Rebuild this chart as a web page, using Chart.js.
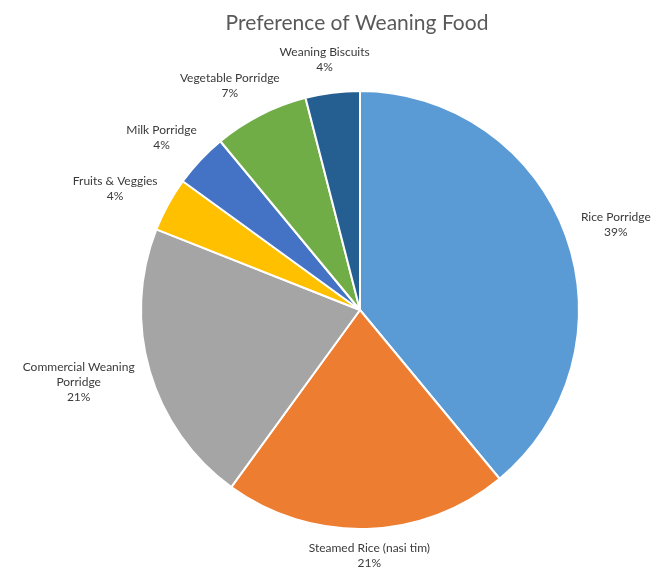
<!DOCTYPE html>
<html lang="en">
<head>
    <meta charset="UTF-8">
    <title>Preference of Weaning Food</title>
    <script src="https://cdn.jsdelivr.net/npm/chart.js"></script>
    <style>
        body, html {
            margin: 0;
            padding: 0;
            width: 654px;
            height: 571px;
            overflow: hidden;
            background: #fff;
            font-family: Lato, "Open Sans", sans-serif;
        }
        #wrap { width: 654px; height: 571px; }
    </style>
</head>
<body>
    <div id="wrap"><canvas id="pieChart"></canvas></div>

    <script>
        const categories = [
            "Rice Porridge",
            "Steamed Rice (nasi tim)",
            "Commercial Weaning Porridge",
            "Fruits & Veggies",
            "Milk Porridge",
            "Vegetable Porridge",
            "Weaning Biscuits"
        ];
        // label text as it wraps in the picture
        const labelLines = [
            ["Rice Porridge"],
            ["Steamed Rice (nasi tim)"],
            ["Commercial Weaning", "Porridge"],
            ["Fruits & Veggies"],
            ["Milk Porridge"],
            ["Vegetable Porridge"],
            ["Weaning Biscuits"]
        ];
        const shares = [39, 21, 21, 4, 4, 7, 4];
        const colors = ["#5B9BD5", "#ED7D31", "#A5A5A5", "#FFC000", "#4472C4", "#70AD47", "#255E91"];

        // title + outside labels, placed next to each slice
        const outsideLabels = {
            id: 'outsideLabels',
            afterDraw(chart) {
                const ctx = chart.ctx;
                ctx.save();
                ctx.fillStyle = '#595959';
                ctx.font = '21px Lato, "Open Sans", sans-serif';
                ctx.textAlign = 'center';
                ctx.textBaseline = 'middle';
                ctx.fillText('Preference of Weaning Food', chart.width / 2 + 30, 23);

                const meta = chart.getDatasetMeta(0);
                const total = shares.reduce((a, b) => a + b, 0);
                ctx.font = '12px Lato, "Open Sans", sans-serif';
                ctx.fillStyle = '#3a3a3a';
                const lh = 15;
                meta.data.forEach((arc, i) => {
                    const mid = (arc.startAngle + arc.endAngle) / 2;
                    const r = arc.outerRadius + 18;
                    const ax = arc.x + Math.cos(mid) * r;
                    const ay = arc.y + Math.sin(mid) * r;
                    const lines = labelLines[i].concat([Math.round(shares[i] / total * 100) + '%']);
                    const w = Math.max(...lines.map(l => ctx.measureText(l).width));
                    const h = lines.length * lh;
                    const cx = ax + Math.cos(mid) * w / 2;
                    // keep the box inside the canvas
                    const cy = Math.min(ay + Math.sin(mid) * h / 2, chart.height - h / 2);
                    lines.forEach((l, k) => {
                        ctx.fillText(l, cx, cy - h / 2 + lh / 2 + k * lh);
                    });
                });
                ctx.restore();
            }
        };

        new Chart(document.getElementById('pieChart'), {
            type: 'pie',
            data: {
                labels: categories,
                datasets: [{
                    data: shares,
                    backgroundColor: colors,
                    borderColor: '#ffffff',
                    borderWidth: 2
                }]
            },
            options: {
                responsive: true,
                maintainAspectRatio: false,
                animation: false,
                layout: { padding: { left: 140, right: 74, top: 90, bottom: 41 } },
                plugins: {
                    legend: { display: false },
                    title: { display: false },
                    tooltip: { enabled: false }
                }
            },
            plugins: [outsideLabels]
        });
    </script>
</body>
</html>
